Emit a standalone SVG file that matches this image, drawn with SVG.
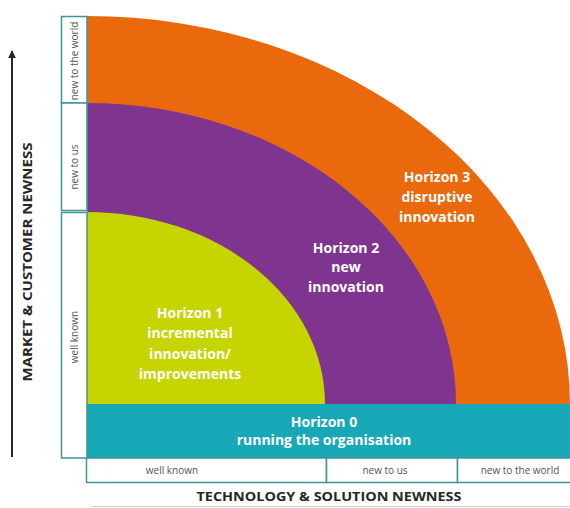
<svg xmlns="http://www.w3.org/2000/svg" width="570" height="508" viewBox="0 0 570 508">
  <style>
    .band-label { font-family: "Open Sans", "Liberation Sans", sans-serif; font-weight: 700; font-size: 14px; fill: #ffffff; text-anchor: middle; }
    .scale-label { font-family: "Open Sans", "Liberation Sans", sans-serif; font-size: 10px; fill: #555555; text-anchor: middle; }
    .axis-title { font-family: "Open Sans", "Liberation Sans", sans-serif; font-weight: 700; font-size: 13px; fill: #262626; text-anchor: middle; }
    .cell { fill: #ffffff; stroke: #3f9498; stroke-width: 1.5; }
  </style>
  <defs>
    <marker id="arrow-head" viewBox="0 0 10 10" refX="9" refY="5" markerWidth="4" markerHeight="4" orient="auto">
      <path d="M0,0 L10,5 L0,10 Z" fill="#262626"/>
    </marker>
  </defs>

  <rect width="570" height="508" fill="#ffffff"/>

  <!-- Horizon 3: outer quarter ellipse -->
  <g id="horizon3">
    <path d="M87,16 A483,388 0 0 1 570,404 L87,404 Z" fill="#e9690c"/>
    <text class="band-label" x="437" y="182">Horizon 3</text>
    <text class="band-label" x="437" y="202">disruptive</text>
    <text class="band-label" x="437" y="222">innovation</text>
  </g>

  <!-- Horizon 2 -->
  <g id="horizon2">
    <path d="M87,103 A369,301 0 0 1 456,404 L87,404 Z" fill="#7f358f"/>
    <text class="band-label" x="346" y="253">Horizon 2</text>
    <text class="band-label" x="346" y="272">new</text>
    <text class="band-label" x="346" y="292">innovation</text>
  </g>

  <!-- Horizon 1 -->
  <g id="horizon1">
    <path d="M87,212 A238,192 0 0 1 325,404 L87,404 Z" fill="#c6d400"/>
    <text class="band-label" x="190" y="318">Horizon 1</text>
    <text class="band-label" x="190" y="338">incremental</text>
    <text class="band-label" x="190" y="359">innovation/</text>
    <text class="band-label" x="190" y="379">improvements</text>
  </g>

  <!-- Horizon 0: base strip -->
  <g id="horizon0">
    <rect x="87" y="404" width="483" height="54" fill="#17a7b7"/>
    <text class="band-label" x="324" y="427">Horizon 0</text>
    <text class="band-label" x="324" y="445">running the organisation</text>
  </g>

  <!-- Vertical scale: market & customer newness -->
  <g id="market-scale">
    <rect class="cell" x="61.5" y="16.5" width="25.5" height="86.5"/>
    <rect class="cell" x="61.5" y="103" width="25.5" height="107.5"/>
    <rect class="cell" x="61.5" y="212.5" width="25.5" height="245.5"/>
    <text class="scale-label" transform="translate(78,61) rotate(-90)">new to the world</text>
    <text class="scale-label" transform="translate(78,167) rotate(-90)">new to us</text>
    <text class="scale-label" transform="translate(78,337) rotate(-90)">well known</text>
  </g>

  <!-- Horizontal scale: technology & solution newness -->
  <g id="technology-scale">
    <rect class="cell" x="86.5" y="458" width="240" height="24.5"/>
    <rect class="cell" x="326.5" y="458" width="131" height="24.5"/>
    <rect class="cell" x="457.5" y="458" width="120" height="24.5"/>
    <text class="scale-label" x="172" y="474">well known</text>
    <text class="scale-label" x="385" y="474">new to us</text>
    <text class="scale-label" x="520" y="474">new to the world</text>
  </g>

  <!-- Axes -->
  <g id="connectors">
    <line x1="12" y1="457" x2="12" y2="51" stroke="#262626" stroke-width="2" marker-end="url(#arrow-head)"/>
    <line x1="92" y1="506.5" x2="570" y2="506.5" stroke="#c8c8c8" stroke-width="1"/>
  </g>

  <g id="axis-titles">
    <text class="axis-title" transform="translate(31.5,262) rotate(-90)" textLength="239" lengthAdjust="spacingAndGlyphs">MARKET &amp; CUSTOMER NEWNESS</text>
    <text class="axis-title" x="329" y="501" textLength="265" lengthAdjust="spacingAndGlyphs">TECHNOLOGY &amp; SOLUTION NEWNESS</text>
  </g>
</svg>
